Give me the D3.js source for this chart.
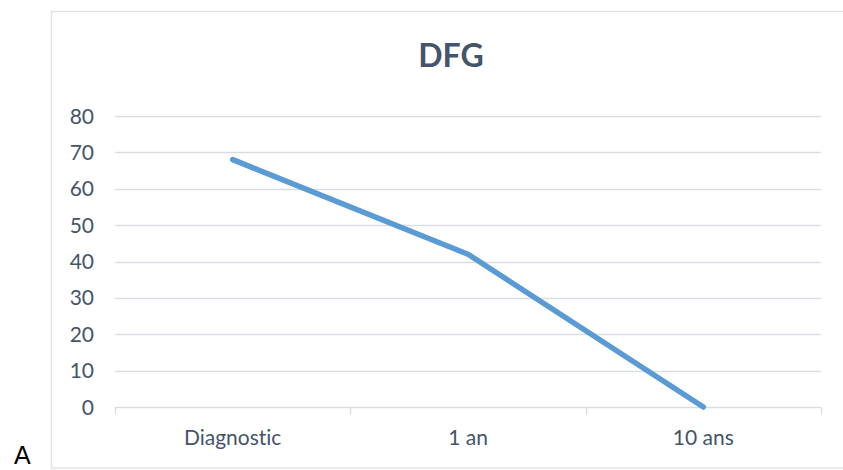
<!DOCTYPE html>
<html>
<head>
<meta charset="utf-8">
<script src="https://cdn.jsdelivr.net/npm/d3@7"></script>
<style>
  body { margin: 0; background: #fff; }
  svg text { font-family: Lato, "Open Sans", sans-serif; font-variant-ligatures: none; }
</style>
</head>
<body>
<div id="chart"></div>
<script>
// data
const categories = ["Diagnostic", "1 an", "10 ans"];
const dfgValues = [68, 42, 0];
const yTicks = [0, 10, 20, 30, 40, 50, 60, 70, 80];
const chartTitle = "DFG";
const panelLabel = "A";

const W = 843, H = 470;
let margin = {top: 116, right: 22, bottom: 63, left: 115};

const svg = d3.select("#chart").append("svg")
  .attr("width", W).attr("height", H);

// chart frame (right side runs past the window)
svg.append("rect")
  .attr("x", 51.5).attr("y", 11.5)
  .attr("width", 820).attr("height", 456.5)
  .attr("fill", "none").attr("stroke", "#dde1e6").attr("stroke-width", 1.3);

svg.append("text")
  .attr("x", 14).attr("y", 464)
  .attr("font-size", 25).attr("fill", "#000")
  .style("font-family", "Liberation Sans, Arial, sans-serif")
  .text(panelLabel);

const x = d3.scaleBand()
  .domain(categories)
  .range([margin.left, W - margin.right]);

const y = d3.scaleLinear()
  .domain([0, 80])
  .range([H - margin.bottom, margin.top]);

// gridlines
svg.append("g")
  .selectAll("line")
  .data(yTicks.filter(d => d > 0))
  .join("line")
  .attr("x1", margin.left).attr("x2", W - margin.right)
  .attr("y1", d => Math.round(y(d)) + 0.5).attr("y2", d => Math.round(y(d)) + 0.5)
  .attr("stroke", "#d9dde2").attr("stroke-width", 1.3);

// y tick labels
svg.append("g")
  .selectAll("text")
  .data(yTicks)
  .join("text")
  .attr("x", 94)
  .attr("y", d => y(d))
  .attr("dy", "0.36em")
  .attr("text-anchor", "end")
  .attr("font-size", 21)
  .attr("fill", "#44546a")
  .text(d => d);

// x axis
const xAxis = svg.append("g")
  .attr("transform", `translate(0, ${Math.round(y(0)) + 0.5})`);
xAxis.append("line")
  .attr("x1", margin.left).attr("x2", W - margin.right)
  .attr("stroke", "#d9dde2").attr("stroke-width", 1.3);
const edges = categories.map(c => x(c)).concat([x(categories[categories.length - 1]) + x.bandwidth()]);
xAxis.selectAll(".tk")
  .data(edges)
  .join("line")
  .attr("class", "tk")
  .attr("x1", d => Math.round(d) + 0.5).attr("x2", d => Math.round(d) + 0.5)
  .attr("y1", 0).attr("y2", 7)
  .attr("stroke", "#d9dde2").attr("stroke-width", 1.3);
xAxis.selectAll("text")
  .data(categories)
  .join("text")
  .attr("x", d => x(d) + x.bandwidth() / 2)
  .attr("y", 37)
  .attr("text-anchor", "middle")
  .attr("font-size", 21)
  .attr("fill", "#44546a")
  .text(d => d);

// title
svg.append("text")
  .attr("x", 451).attr("y", 67)
  .attr("text-anchor", "middle")
  .attr("font-size", 32)
  .attr("font-weight", "bold")
  .attr("fill", "#44546a")
  .text(chartTitle);

// the line
const line = d3.line()
  .x((d, i) => x(categories[i]) + x.bandwidth() / 2)
  .y(d => y(d));

svg.append("path")
  .datum(dfgValues)
  .attr("d", line)
  .attr("fill", "none")
  .attr("stroke", "#5b9bd5")
  .attr("stroke-width", 5.5)
  .attr("stroke-linecap", "round")
  .attr("stroke-linejoin", "round");
</script>
</body>
</html>
